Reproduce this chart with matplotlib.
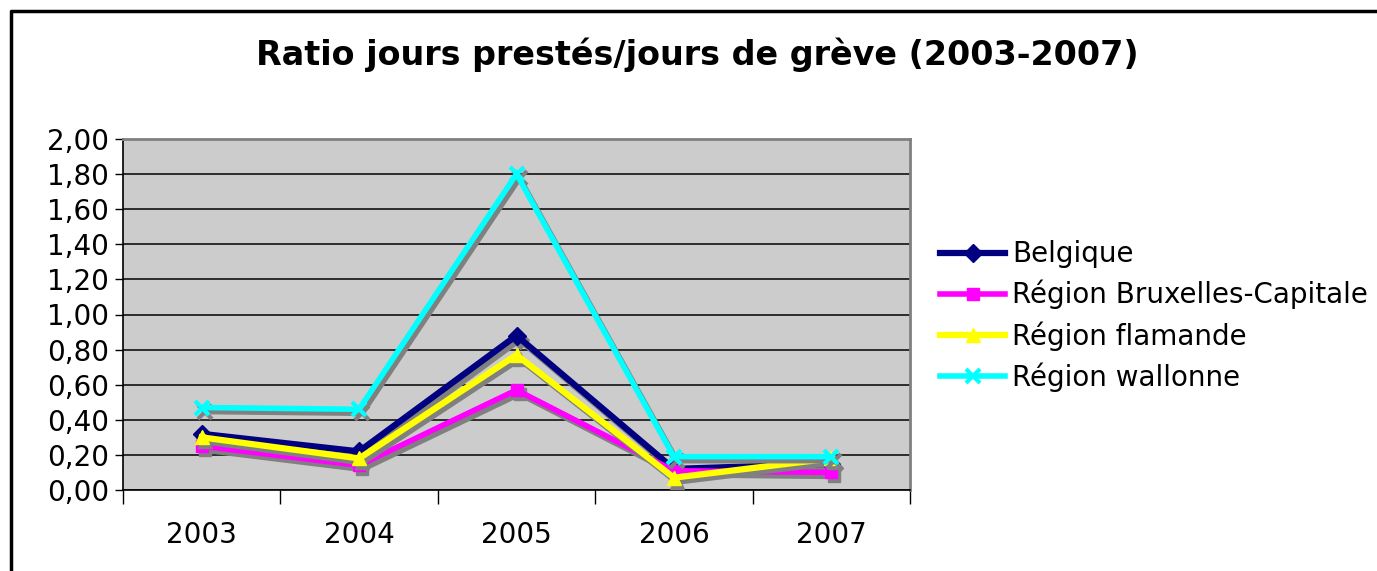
import matplotlib
matplotlib.use("Agg")
import matplotlib.pyplot as plt
import matplotlib.transforms as mtransforms
from matplotlib.lines import Line2D
from matplotlib.ticker import FixedLocator, FuncFormatter

years = ["2003", "2004", "2005", "2006", "2007"]
belgique = [0.32, 0.22, 0.88, 0.12, 0.15]
bruxelles = [0.25, 0.14, 0.57, 0.11, 0.10]
flamande = [0.30, 0.18, 0.77, 0.07, 0.18]
wallonne = [0.47, 0.46, 1.80, 0.19, 0.19]
series_names = ["Belgique", "Région Bruxelles-Capitale", "Région flamande", "Région wallonne"]

plt.rcParams['font.family'] = ['DejaVu Sans']

W, H = 1377, 571
fig = plt.figure(figsize=(W / 100, H / 100), dpi=100)
ax = fig.add_axes([123 / W, 1 - 490 / H, (910 - 123) / W, (490 - 139) / H])
ax.set_facecolor("#CCCCCC")

x = list(range(len(years)))
styles = [
    (belgique, "#000080", "D", 9, 4.5),
    (bruxelles, "#FF00FF", "s", 9, 4.0),
    (flamande, "#FFFF00", "^", 10, 4.5),
    (wallonne, "#00FFFF", "x", 10, 4.0),
]
shadow = mtransforms.offset_copy(ax.transData, fig=fig, x=3, y=-4, units='dots')
handles = []
for (vals, col, mk, ms, lw), name in zip(styles, series_names):
    ax.plot(x, vals, color="#808080", lw=lw, marker=mk, ms=ms, mew=3 if mk == "x" else 1,
            mfc="#808080", mec="#808080", transform=shadow, zorder=3, solid_joinstyle='miter')
    h, = ax.plot(x, vals, color=col, lw=lw, marker=mk, ms=ms, mew=3 if mk == "x" else 1,
                 mfc=col, mec=col, zorder=3, label=name, solid_joinstyle='miter')
    handles.append(h)

ax.set_xlim(-0.5, len(years) - 0.5)
ax.set_ylim(0, 2.0)
ax.yaxis.set_major_locator(FixedLocator([i * 0.2 for i in range(11)]))
ax.yaxis.set_major_formatter(FuncFormatter(lambda v, p: f"{v:.2f}".replace(".", ",")))
ax.yaxis.grid(True, color="#202020", lw=1.3)
ax.set_axisbelow(True)
ax.set_xticks(x)
ax.set_xticklabels(years)
ax.set_xticks([i - 0.5 for i in range(len(years) + 1)], minor=True)
ax.tick_params(axis='x', which='major', length=0, pad=22, labelsize=20)
ax.tick_params(axis='x', which='minor', length=10, width=1, color='black')
ax.tick_params(axis='y', which='major', length=6, width=1, color='black', pad=4, labelsize=20)

for side in ("top", "right"):
    ax.spines[side].set_color("#808080")
    ax.spines[side].set_linewidth(2)
for side in ("left", "bottom"):
    ax.spines[side].set_color("black")
    ax.spines[side].set_linewidth(1.2)

fig.text(697 / W, 1 - 55 / H, "Ratio jours prestés/jours de grève (2003-2007)",
         ha="center", va="center", fontsize=24, fontweight="bold")

leg = fig.legend(handles=handles, loc="center left", bbox_to_anchor=(940 / W, 1 - 316 / H),
                 frameon=False, fontsize=20, handlelength=2.35, handletextpad=0.25,
                 labelspacing=0.42, borderpad=0, borderaxespad=0)

# outer chart frame (left and top)
fig.add_artist(Line2D([11 / W, 11 / W, 1.0], [0.0, 1 - 11 / H, 1 - 11 / H],
                      transform=fig.transFigure, color="black", lw=2.5))

fig.savefig("out.png", dpi=100)
